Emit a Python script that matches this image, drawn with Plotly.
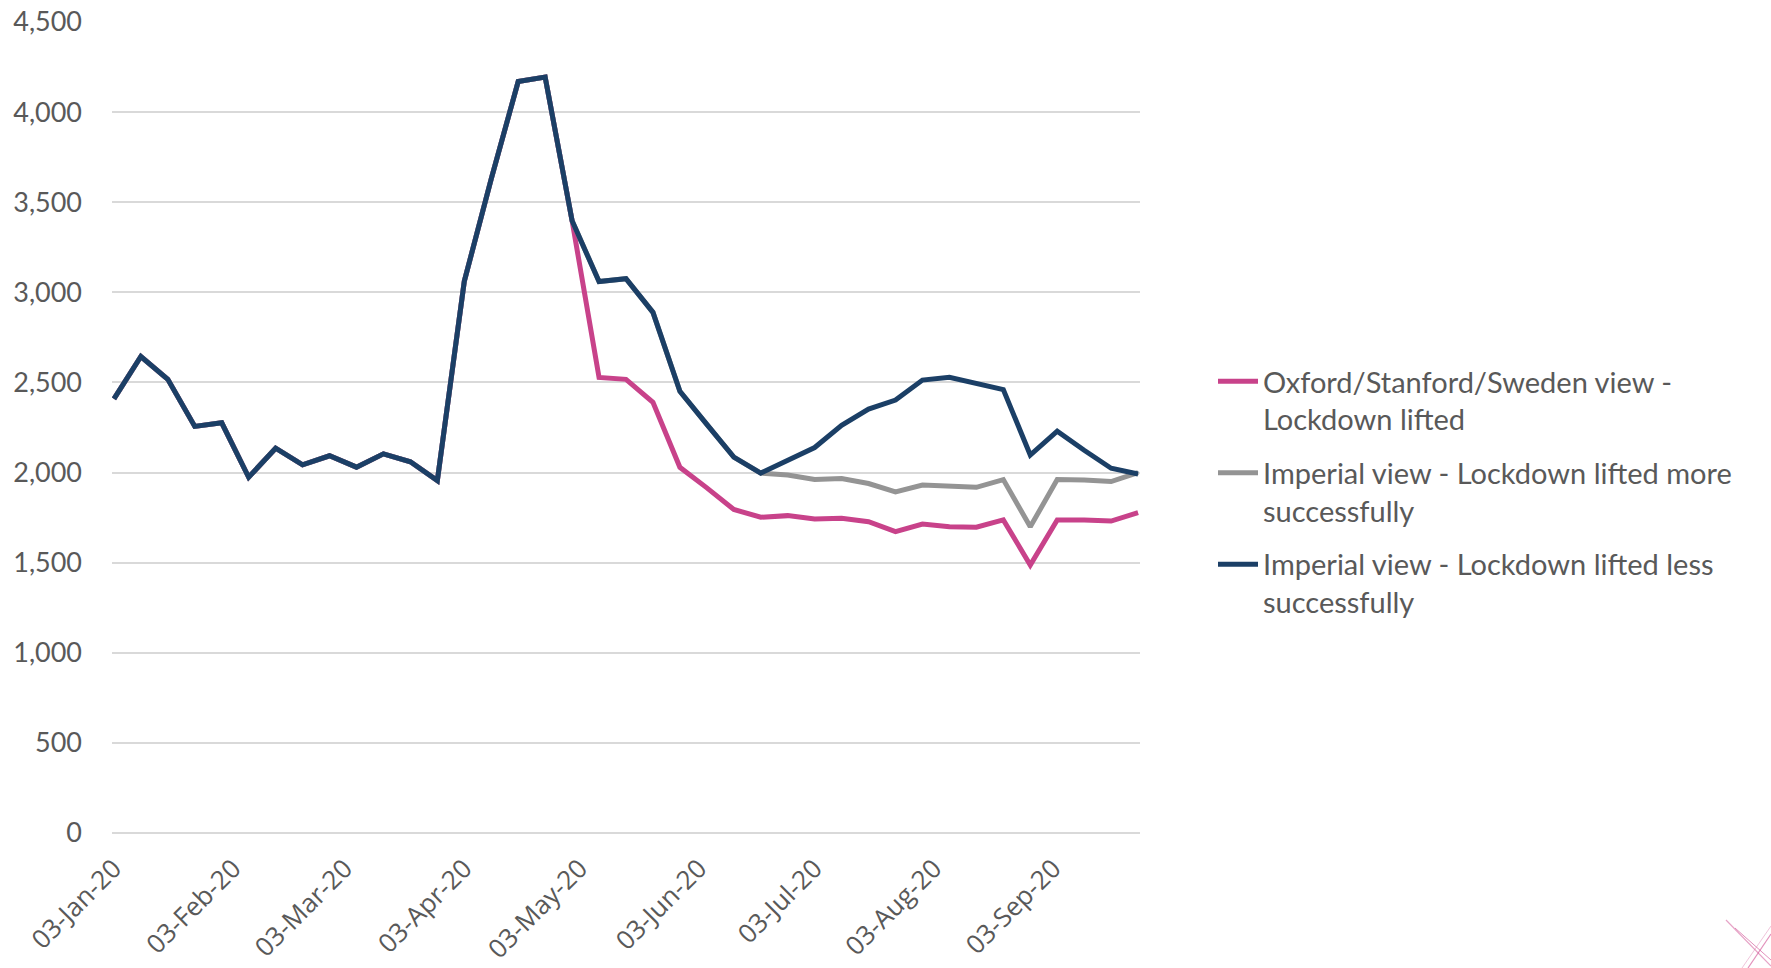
import plotly.graph_objects as go

W, H = 1771, 968

dates = ["2020-01-03", "2020-01-10", "2020-01-17", "2020-01-24", "2020-01-31",
         "2020-02-07", "2020-02-14", "2020-02-21", "2020-02-28",
         "2020-03-06", "2020-03-13", "2020-03-20", "2020-03-27",
         "2020-04-03", "2020-04-10", "2020-04-17", "2020-04-24",
         "2020-05-01", "2020-05-08", "2020-05-15", "2020-05-22", "2020-05-29",
         "2020-06-05", "2020-06-12", "2020-06-19", "2020-06-26",
         "2020-07-03", "2020-07-10", "2020-07-17", "2020-07-24", "2020-07-31",
         "2020-08-07", "2020-08-14", "2020-08-21", "2020-08-28",
         "2020-09-04", "2020-09-11", "2020-09-18", "2020-09-25"]

oxford = [2409, 2644, 2517, 2256, 2276, 1974, 2135, 2043, 2093, 2030, 2104, 2060, 1956,
          3061, 3630, 4170, 4194, 3397, 2528, 2517, 2390, 2029, 1915, 1795, 1752, 1761,
          1742, 1746, 1727, 1672, 1714, 1699, 1697, 1737, 1487, 1737, 1737, 1731, 1778]

imperial_more = [2409, 2644, 2517, 2256, 2276, 1974, 2135, 2043, 2093, 2030, 2104, 2060, 1956,
                 3061, 3630, 4170, 4194, 3397, 3060, 3076, 2889, 2451, 2267, 2086, 1997, 1986,
                 1961, 1967, 1939, 1893, 1931, 1922, 1918, 1961, 1699, 1961, 1959, 1950, 2000]

imperial_less = [2409, 2644, 2517, 2256, 2276, 1974, 2135, 2043, 2093, 2030, 2104, 2060, 1956,
                 3061, 3630, 4170, 4194, 3397, 3060, 3076, 2889, 2451, 2267, 2086, 1997, 2065,
                 2139, 2262, 2352, 2402, 2513, 2529, 2496, 2460, 2097, 2230, 2124, 2024, 1992]

series_names = ["Oxford/Stanford/Sweden view -<br>Lockdown lifted",
                "Imperial view - Lockdown lifted more<br>successfully",
                "Imperial view - Lockdown lifted less<br>successfully"]
series_colors = ["#C8428A", "#949494", "#1B3F66"]

tick_dates = ["2020-01-03", "2020-02-03", "2020-03-03", "2020-04-03", "2020-05-03",
              "2020-06-03", "2020-07-03", "2020-08-03", "2020-09-03"]
tick_labels = ["03-Jan-20", "03-Feb-20", "03-Mar-20", "03-Apr-20", "03-May-20",
               "03-Jun-20", "03-Jul-20", "03-Aug-20", "03-Sep-20"]

y_ticks = [0, 500, 1000, 1500, 2000, 2500, 3000, 3500, 4000, 4500]

fig = go.Figure()
for name, vals, col in zip(series_names, [oxford, imperial_more, imperial_less], series_colors):
    fig.add_trace(go.Scatter(x=dates, y=vals, mode="lines", name=name,
                             line=dict(color=col, width=5, shape="linear"),
                             legendgroup=name))

# plot area in pixels
L, R, T, B = 112, 1140, 22, 833

fig.update_layout(
    width=W, height=H,
    margin=dict(l=L, r=W - R, t=T, b=H - B, autoexpand=False),
    paper_bgcolor="white", plot_bgcolor="white",
    showlegend=True,
    legend=dict(x=(1213 - L) / (R - L), xanchor="left",
                y=(B - 356) / (B - T), yanchor="top",
                font=dict(family="Lato", size=29, color="#595959"),
                valign="top", tracegroupgap=13, itemwidth=40,
                bgcolor="rgba(0,0,0,0)"),
    xaxis=dict(type="date", range=["2020-01-02 12:00", "2020-09-25 12:00"],
               tickvals=tick_dates, ticktext=tick_labels, tickangle=-45,
               tickfont=dict(family="Open Sans", size=26, color="#595959"),
               showgrid=False, zeroline=False, showline=False, ticks="",
               ticklabelstandoff=14, automargin=False),
    yaxis=dict(range=[0, 4500], tickvals=y_ticks,
               ticktext=[f"{v:,}" for v in y_ticks],
               tickfont=dict(family="Lato", size=27, color="#595959"),
               showgrid=True, gridcolor="#D9D9D9", gridwidth=2,
               zeroline=True, zerolinecolor="#D9D9D9", zerolinewidth=2,
               showline=False, ticks="", ticklabelstandoff=29, automargin=False),
)

# small decorative mark in the bottom-right corner (pixel positions -> paper)
def to_paper(x, y):
    return (x - L) / (R - L), (B - y) / (B - T)

for (x0, y0, x1, y1, w, op) in [(1726, 920, 1771, 966, 1.2, 0.5),
                                (1735, 928, 1771, 960, 1.0, 0.6),
                                (1748, 968, 1771, 934, 1.2, 0.6),
                                (1742, 968, 1771, 926, 0.8, 0.4)]:
    a, b = to_paper(x0, y0)
    c, d = to_paper(x1, y1)
    fig.add_shape(type="line", xref="paper", yref="paper", x0=a, y0=b, x1=c, y1=d,
                  line=dict(color="#D04A90", width=w), opacity=op)

fig.write_html("out.html", config={"displayModeBar": False},
               post_script="document.body.style.margin='0';document.body.style.overflow='hidden';")
